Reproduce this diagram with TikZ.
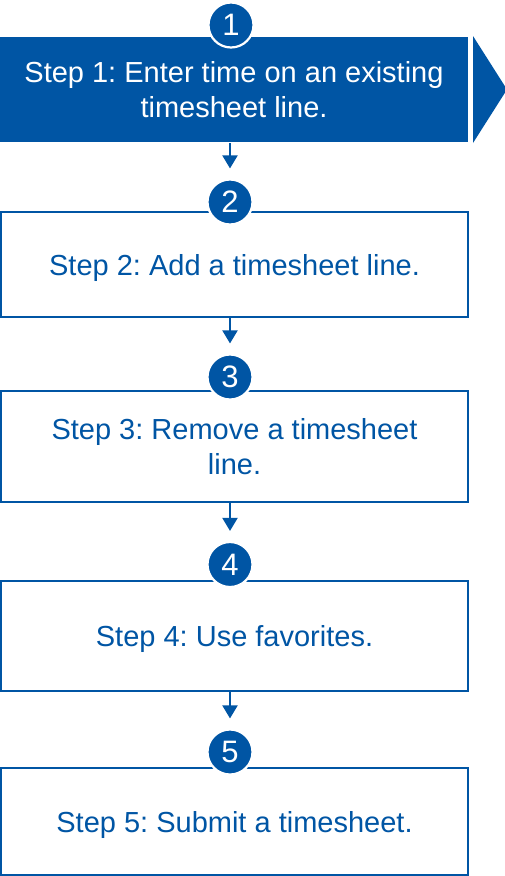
\documentclass[tikz,border=0pt]{standalone}
\usepackage{fontspec}
\setmainfont{Liberation Sans}
\frenchspacing
\usetikzlibrary{arrows.meta}
\definecolor{stepblue}{HTML}{0055A4}

\begin{document}
\begin{tikzpicture}[x=1pt,y=-1pt,
	stepbox/.style={draw=stepblue,line width=2pt,minimum width=467pt,inner sep=0pt,align=center,text=stepblue,font=\fontsize{29}{35}\selectfont},
	oneline/.style={stepbox,text depth=0pt},
	firstbox/.style={stepbox,fill=stepblue,draw=none,minimum width=468pt,text=white},
	numdot/.style={circle,fill=stepblue,draw=white,line width=2.2pt,minimum size=45pt,inner sep=0pt,text=white,font=\fontsize{31}{31}\selectfont},
	flow/.style={stepblue,line width=2pt,-{Triangle[width=15pt,length=13pt]},shorten >=10pt}]
	%frame
	\useasboundingbox (0,0) rectangle (504,876);

	%steps
	\node[firstbox,minimum height=105pt] (s1) at (234,89.5) {Step 1: Enter time on an existing\\timesheet line.};
	\fill[stepblue] ([xshift=4pt]s1.north east) -- ([xshift=4pt]s1.south east) -- ([xshift=38pt]s1.east) -- cycle; %chevron
	\node[oneline,minimum height=105pt] (s2) at (234.5,264.5) {Step 2: Add a timesheet line.};
	\node[stepbox,minimum height=111pt] (s3) at (234.5,446.5) {Step 3: Remove a timesheet\\line.};
	\node[oneline,minimum height=110pt] (s4) at (234.5,636) {Step 4: Use favorites.};
	\node[oneline,minimum height=107pt] (s5) at (234.5,821.5) {Step 5: Submit a timesheet.};

	%numbers
	\node[numdot] (n1) at (231,25) {1};
	\node[numdot] (n2) at (230,202) {2};
	\node[numdot] (n3) at (230,377) {3};
	\node[numdot] (n4) at (230,564.5) {4};
	\node[numdot] (n5) at (230,752) {5};

	%arrows
	\draw[flow] (s1.south -| n2) -- (n2);
	\draw[flow] (s2.south -| n3) -- (n3);
	\draw[flow] (s3.south -| n4) -- (n4);
	\draw[flow] (s4.south -| n5) -- (n5);
\end{tikzpicture}
\end{document}
